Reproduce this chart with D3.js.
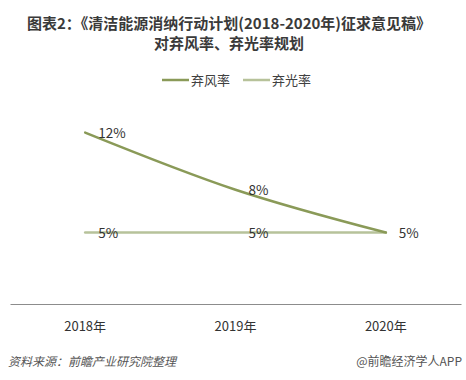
<!DOCTYPE html>
<html><head><meta charset="utf-8">
<script src="https://cdn.jsdelivr.net/npm/d3@7"></script>
<style>body{margin:0;background:#fff}svg{display:block}</style>
</head><body>
<svg id="c" width="466" height="380"></svg>
<script>
const categories = ["2018年","2019年","2020年"];
const windRate = [12, 8, 5];
const solarRate = [5, 5, 5];
const seriesNames = ["弃风率","弃光率"];
const titleLines = ["图表2：《清洁能源消纳行动计划(2018-2020年)征求意见稿》","对弃风率、弃光率规划"];
const sourceText = "资料来源：前瞻产业研究院整理";
const brandText = "@前瞻经济学人APP";

const svg = d3.select("#c");
const font = "'Microsoft YaHei','Noto Sans CJK SC',sans-serif";
const colors = ["#8a9a58", "#b7c29a"];

svg.selectAll("text.title").data(titleLines).enter().append("text")
  .attr("x", 229).attr("y", (d,i)=> 29 + i*20)
  .attr("text-anchor","middle").attr("font-family",font)
  .attr("font-size",15).attr("font-weight","bold").attr("fill","#3a3a3a")
  .text(d=>d);

// legend
const leg = [{x:162, name:seriesNames[0], c:colors[0]},{x:243, name:seriesNames[1], c:colors[1]}];
leg.forEach(l=>{
  svg.append("line").attr("x1",l.x).attr("x2",l.x+27).attr("y1",80).attr("y2",80)
    .attr("stroke",l.c).attr("stroke-width",2.5);
  svg.append("text").attr("x",l.x+29).attr("y",85).attr("font-family",font)
    .attr("font-size",13).attr("fill","#404040").text(l.name);
});

const x = d3.scaleBand().domain(categories).range([10,461]);
const y = d3.scaleLinear().domain([0,14]).range([304,104]);
const cx = d => x(d) + x.bandwidth()/2;

// axis
const ax = svg.append("g").attr("transform","translate(0,304)")
  .call(d3.axisBottom(x).tickSize(0).tickPadding(18));
ax.select(".domain").attr("stroke","#8c8c8c").attr("stroke-width",1);
ax.selectAll("text").attr("font-family",font).attr("font-size",13).attr("fill","#333");

const line = d3.line().x((d,i)=>cx(categories[i])).y(d=>y(d)).curve(d3.curveMonotoneX);
[solarRate, windRate].forEach((s,k)=>{
  const c = k===0 ? colors[1] : colors[0];
  svg.append("path").datum(s).attr("d",line).attr("fill","none")
    .attr("stroke",c).attr("stroke-width",2.5).attr("stroke-linecap","round");
});
// labels (where both series share the same point, one label is shown)
const labels = [];
solarRate.forEach((d,i)=>labels.push({i, v:d}));
windRate.forEach((d,i)=>{ if (d !== solarRate[i]) labels.push({i, v:d}); });
svg.selectAll(null).data(labels).enter().append("text")
  .attr("x",d=>cx(categories[d.i])+13).attr("y",d=>y(d.v)+5)
  .attr("font-family",font).attr("font-size",13.5).attr("fill","#333")
  .text(d=>d.v+"%");

svg.append("text").attr("x",8).attr("y",366).attr("font-family",font)
  .attr("font-size",12).attr("font-style","italic").attr("fill","#555").text(sourceText);
svg.append("text").attr("x",462).attr("y",366).attr("text-anchor","end").attr("font-family",font)
  .attr("font-size",12).attr("fill","#555").text(brandText);
</script>
</body></html>
